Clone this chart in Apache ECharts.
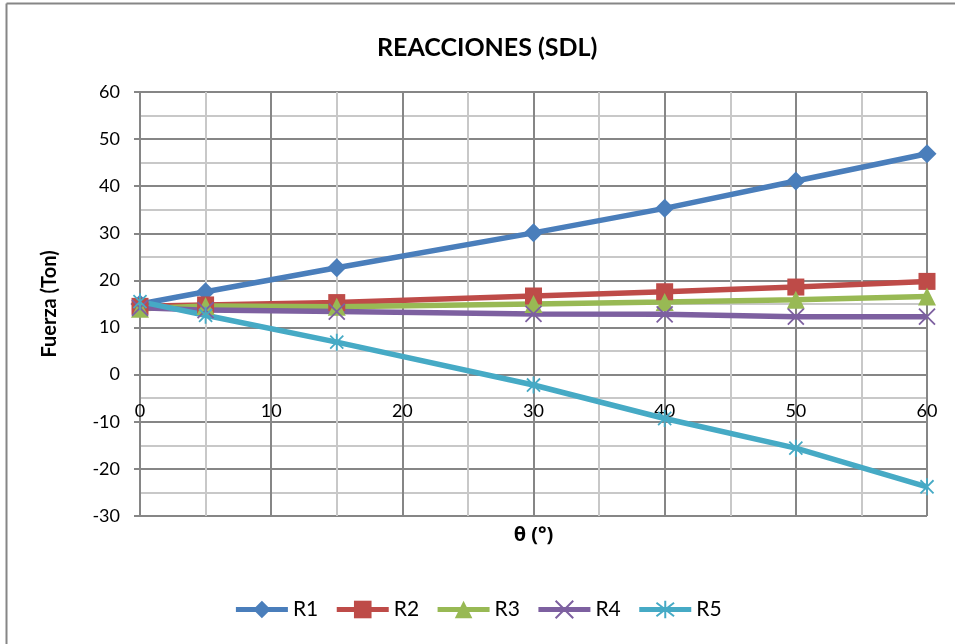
<!DOCTYPE html>
<html>
<head>
<meta charset="utf-8">
<script src="https://cdn.jsdelivr.net/npm/echarts@6/dist/echarts.min.js"></script>
<style>html,body{margin:0;padding:0;background:#fff;}#c{width:955px;height:644px;}</style>
</head>
<body>
<div id="c"></div>
<script>
const theta = [0, 5, 15, 30, 40, 50, 60];
const R1 = [15.0, 17.6, 22.7, 30.1, 35.3, 41.1, 46.9];
const R2 = [14.5, 14.8, 15.3, 16.7, 17.6, 18.6, 19.8];
const R3 = [14.0, 14.6, 14.4, 15.0, 15.4, 15.9, 16.6];
const R4 = [14.2, 13.7, 13.4, 12.9, 12.8, 12.3, 12.3];
const R5 = [15.5, 12.6, 6.9, -2.2, -9.3, -15.6, -23.8];
const seriesNames = ['R1', 'R2', 'R3', 'R4', 'R5'];
const seriesData = [R1, R2, R3, R4, R5];
const colors = ['#4a7ebb', '#be4b48', '#98b954', '#7d60a0', '#46aac5'];
const symbols = ['diamond', 'rect', 'triangle',
  'path://M0,0L10,10M10,0L0,10',
  'path://M0,0L10,10M10,0L0,10M5,-1.5L5,11.5'];
const symbolSizes = [19, 17, 18, 16, 17];

const FONT = 'Lato, "Open Sans", sans-serif';
const chart = echarts.init(document.getElementById('c'), null, {renderer: 'canvas'});

const series = seriesNames.map((n, i) => {
  const stroke = i >= 3;
  return {
    name: n,
    type: 'line',
    data: theta.map((t, k) => [t, seriesData[i][k]]),
    symbol: symbols[i],
    symbolSize: symbolSizes[i],
    symbolKeepAspect: true,
    showAllSymbol: true,
    lineStyle: {color: colors[i], width: 5.5},
    itemStyle: stroke ? {color: colors[i], borderColor: colors[i], borderWidth: 1.8}
                      : {color: colors[i], borderWidth: 0},
    emphasis: {disabled: true},
    animation: false
  };
});

chart.setOption({
  backgroundColor: '#fff',
  animation: false,
  title: {
    text: 'REACCIONES (SDL)',
    left: 372,
    top: 30,
    textStyle: {fontFamily: FONT, fontSize: 25, fontWeight: 'bold', color: '#000'}
  },
  grid: {left: 140, right: 28, top: 92, bottom: 128, containLabel: false, outerBoundsMode: 'none'},
  legend: {
    data: seriesNames,
    left: 'center',
    top: 594,
    itemWidth: 52,
    itemHeight: 22,
    itemGap: 16,
    lineStyle: {width: 5},
    textStyle: {fontFamily: FONT, fontSize: 21, color: '#000', padding: [0, 0, 0, 0]}
  },
  xAxis: {
    type: 'value',
    min: 0, max: 60, interval: 10,
    name: 'θ (°)',
    nameLocation: 'middle',
    nameGap: 9,
    nameTextStyle: {fontFamily: '"Open Sans", Lato, sans-serif', fontSize: 20, fontWeight: 'bold', color: '#000'},
    axisLine: {show: false, onZero: false},
    axisTick: {show: false},
    axisLabel: {fontFamily: FONT, fontSize: 18, color: '#000', inside: true, margin: 96},
    splitLine: {show: true, lineStyle: {color: '#868686', width: 2}},
    minorTick: {show: false, splitNumber: 2},
    minorSplitLine: {show: true, lineStyle: {color: '#c8c8c8', width: 2}}
  },
  yAxis: {
    type: 'value',
    min: -30, max: 60, interval: 10,
    name: 'Fuerza (Ton)',
    nameLocation: 'middle',
    nameGap: 80,
    nameTextStyle: {fontFamily: FONT, fontSize: 20, fontWeight: 'bold', color: '#000'},
    axisLine: {show: true, onZero: false, lineStyle: {color: '#868686', width: 2}},
    axisTick: {show: true, length: 6, lineStyle: {color: '#868686', width: 2}},
    axisLabel: {fontFamily: FONT, fontSize: 18, color: '#000', margin: 20},
    splitLine: {show: true, lineStyle: {color: '#868686', width: 2}},
    minorTick: {show: false, splitNumber: 2},
    minorSplitLine: {show: true, lineStyle: {color: '#c8c8c8', width: 2}}
  },
  graphic: [
    {type: 'line', shape: {x1: 6.5, y1: 3.5, x2: 955, y2: 3.5}, style: {stroke: '#868686', lineWidth: 2}, silent: true},
    {type: 'line', shape: {x1: 6.5, y1: 3.5, x2: 6.5, y2: 644}, style: {stroke: '#868686', lineWidth: 2}, silent: true}
  ],
  series: series
});
</script>
</body>
</html>
